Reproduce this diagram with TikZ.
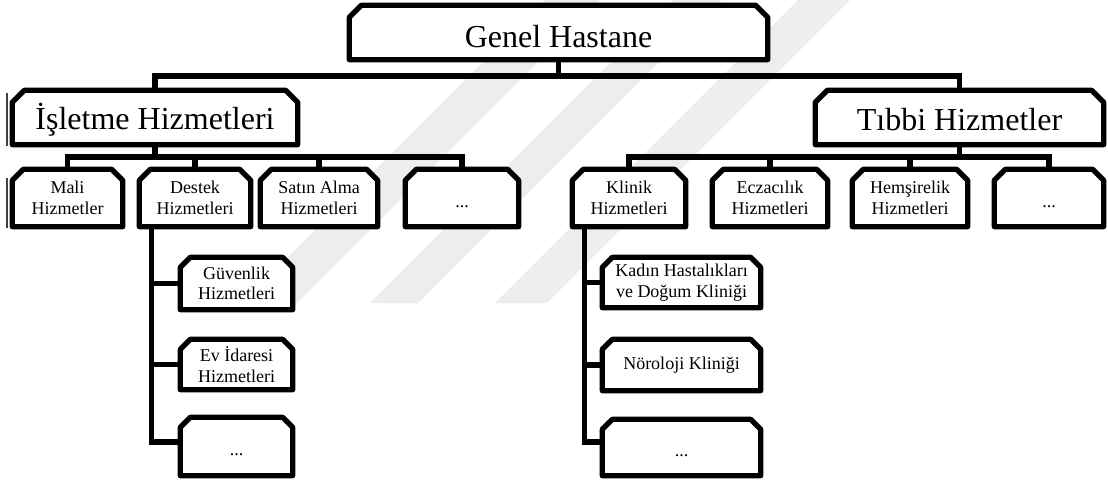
\documentclass[tikz,border=0pt]{standalone}
\usepackage{fontspec}
\setmainfont{Liberation Serif}
\usetikzlibrary{backgrounds}
\begin{document}
\begin{tikzpicture}[x=1pt,y=-1pt,
  box/.style={draw=none, inner sep=0pt, align=center,
    font=\fontsize{18}{20.5}\selectfont},
  big/.style={box, font=\fontsize{32}{36}\selectfont},
  dots/.style={box, text height=18pt, text depth=0pt},
  link/.style={line width=5.2pt, line join=miter},
  outline/.style={line width=5.2pt, line join=round, fill=white},
  ghost/.style={line width=1.6pt, draw=black!75},
  band/.style={fill=black!7, draw=none},
]
\useasboundingbox (0,0) rectangle (1108,482);

% top level
\node[big, minimum width=418pt, minimum height=54pt, text height=29pt, text depth=0pt]
  (genel) at (558.5,32.5) {Genel Hastane};
% second level
\node[big, minimum width=285pt, minimum height=54pt, text height=23pt, text depth=0pt]
  (isletme) at (155,117.5) {İşletme Hizmetleri};
\node[big, minimum width=288pt, minimum height=54pt, text height=25pt, text depth=0pt]
  (tibbi) at (959.5,117.5) {Tıbbi Hizmetler};
% services under İşletme
\node[box, minimum width=110pt, minimum height=57pt] (mali)   at (67.5,198)  {Mali\\Hizmetler};
\node[box, minimum width=111pt, minimum height=57pt] (destek) at (195,198)   {Destek\\Hizmetleri};
\node[box, minimum width=117pt, minimum height=57pt] (satin)  at (319,198)   {Satın Alma\\Hizmetleri};
\node[dots, minimum width=113pt, minimum height=57pt] (idots) at (462,198)   {...};
% services under Tıbbi
\node[box, minimum width=113pt, minimum height=57pt] (klinik) at (629,198)   {Klinik\\Hizmetleri};
\node[box, minimum width=115pt, minimum height=57pt] (eczaci) at (770,198)   {Eczacılık\\Hizmetleri};
\node[box, minimum width=115pt, minimum height=57pt] (hemsir) at (910,198)   {Hemşirelik\\Hizmetleri};
\node[dots, minimum width=109pt, minimum height=57pt] (tdots) at (1049,198)  {...};
% support services
\node[box, minimum width=112pt, minimum height=52pt] (guven)  at (236.5,283.5) {Güvenlik\\Hizmetleri};
\node[box, minimum width=112pt, minimum height=50pt] (evid)   at (236.5,364.5) {Ev İdaresi\\Hizmetleri};
\node[dots, minimum width=112pt, minimum height=58pt] (ddots) at (236.5,446.5) {...};
% clinics
\node[box, minimum width=158pt, minimum height=50pt] (kadin)  at (681.5,282.5) {Kadın Hastalıkları\\ve Doğum Kliniği};
\node[box, minimum width=158pt, minimum height=51pt] (noro)   at (681.5,365)   {Nöroloji Kliniği};
\node[dots, minimum width=158pt, minimum height=56pt] (kdots) at (681.5,447.5) {...};

\coordinate (busA) at (0,76);
\coordinate (busB) at (0,157);
\coordinate (stemD) at ([xshift=12.5pt]destek.south west);
\coordinate (stemK) at ([xshift=12.5pt]klinik.south west);

\begin{pgfonlayer}{background}
  % pale diagonal bands in the background
  \fill[band] (545,0) -- (600,0) -- (297,303) -- (242,303) -- cycle;
  \fill[band] (673,0) -- (721,0) -- (418,303) -- (370,303) -- cycle;
  \fill[band] (798,0) -- (850,0) -- (547,303) -- (495,303) -- cycle;
  % connectors
  \draw[link] (genel.south) -- (genel.south |- busA);
  \draw[link] (isletme.north) |- (tibbi.north |- busA) -- (tibbi.north);
  \draw[link] (isletme.south) -- (isletme.south |- busB);
  \draw[link] (mali.north) |- (idots.north |- busB) -- (idots.north);
  \draw[link] (destek.north) -- (destek.north |- busB);
  \draw[link] (satin.north) -- (satin.north |- busB);
  \draw[link] (tibbi.south) -- (tibbi.south |- busB);
  \draw[link] (klinik.north) |- (tdots.north |- busB) -- (tdots.north);
  \draw[link] (eczaci.north) -- (eczaci.north |- busB);
  \draw[link] (hemsir.north) -- (hemsir.north |- busB);
  \draw[link] (stemD) |- (guven.west);
  \draw[link] (stemD) |- (evid.west);
  \draw[link] (stemD) |- ([yshift=4.5pt]ddots.west);
  \draw[link] (stemK) |- (kadin.west);
  \draw[link] (stemK) |- (noro.west);
  \draw[link] (stemK) |- ([yshift=5.5pt]kdots.west);
  % boxes with snipped upper corners
  \foreach \n/\c in {genel/12, isletme/12, tibbi/12, mali/11, destek/11, satin/11,
      idots/11, klinik/11, eczaci/11, hemsir/11, tdots/11, guven/10, evid/10,
      ddots/10, kadin/10, noro/10, kdots/10}
    \draw[outline] (\n.south west) -- ([yshift=-\c pt]\n.north west)
      -- ([xshift=\c pt]\n.north west) -- ([xshift=-\c pt]\n.north east)
      -- ([yshift=-\c pt]\n.north east) -- (\n.south east) -- cycle;
  % thin doubled edge at the far left
  \draw[ghost] ([xshift=-5.5pt,yshift=-3pt]isletme.north west) -- ([xshift=-5.5pt,yshift=-1pt]isletme.south west);
  \draw[ghost] ([xshift=-5.5pt,yshift=-9pt]mali.north west) -- ([xshift=-5.5pt,yshift=-1pt]mali.south west);
\end{pgfonlayer}
\end{tikzpicture}
\end{document}
